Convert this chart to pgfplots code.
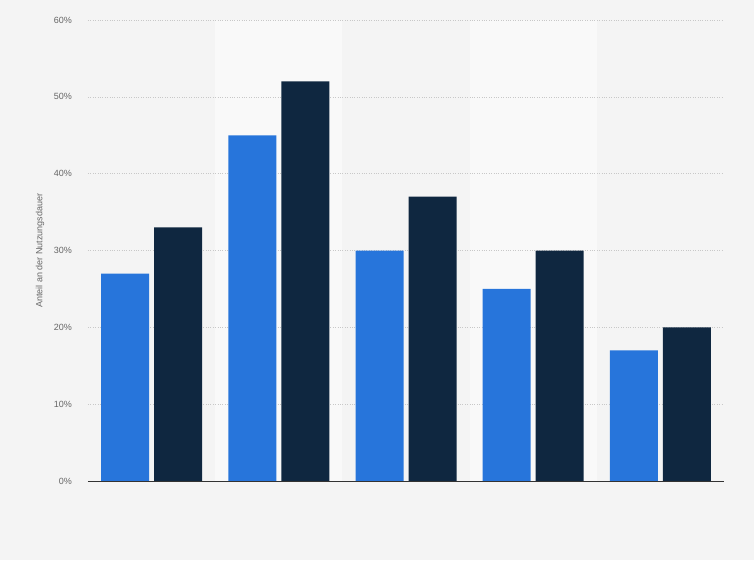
\documentclass[border=0pt]{standalone}
\usepackage{pgfplots}
\pgfplotsset{compat=1.18}
\usepackage{fontspec}
\setmainfont{Liberation Sans}
\definecolor{bgcol}{HTML}{F4F4F4}
\definecolor{bandcol}{HTML}{F9F9F9}
\definecolor{barblue}{HTML}{2775DB}
\definecolor{bardark}{HTML}{0F2740}
\definecolor{gridcol}{HTML}{C8C8C8}
\definecolor{labcol}{HTML}{666666}

\pgfplotstableread{
x a b
0 27 33
1 45 52
2 30 37
3 25 30
4 17 20
}\datatable

\begin{document}
\begin{tikzpicture}
% page background and alternating column bands, axis corner at the origin
\fill[bgcol] (-88pt,-79pt) rectangle (666pt,481pt);
\fill[bandcol] (127.2pt,0pt) rectangle (254.4pt,461pt);
\fill[bandcol] (381.6pt,0pt) rectangle (508.8pt,461pt);
\begin{axis}[
    at={(0pt,0pt)}, anchor=south west,
    scale only axis,
    width=636pt, height=461pt,
    ybar=5pt, bar width=48pt,
    xmin=-0.5, xmax=4.5,
    ymin=0, ymax=60,
    xtick=\empty,
    ytick={0,10,20,30,40,50,60},
    yticklabel={\pgfmathprintnumber{\tick}\%},
    /pgf/number format/assume math mode=true,
    major tick length=0pt,
    ymajorgrids,
    grid style={gridcol, dotted, line width=0.5pt},
    axis line style={draw=none},
    y tick label style={font=\fontsize{9}{10}\selectfont, text=labcol, inner sep=0pt, xshift=-16pt},
    ylabel={Anteil an der Nutzungsdauer},
    every axis y label/.style={at={(rel axis cs:0,0.5)}, rotate=90, anchor=center, yshift=48pt, font=\fontsize{9}{10}\selectfont, text=labcol},
    clip=false,
]
\addplot[fill=barblue, draw=none] table[x=x, y=a] {\datatable};
\addplot[fill=bardark, draw=none] table[x=x, y=b] {\datatable};
\draw[color=black!80, line width=0.9pt] (rel axis cs:0,0) -- (rel axis cs:1,0);
\end{axis}
\end{tikzpicture}
\end{document}
